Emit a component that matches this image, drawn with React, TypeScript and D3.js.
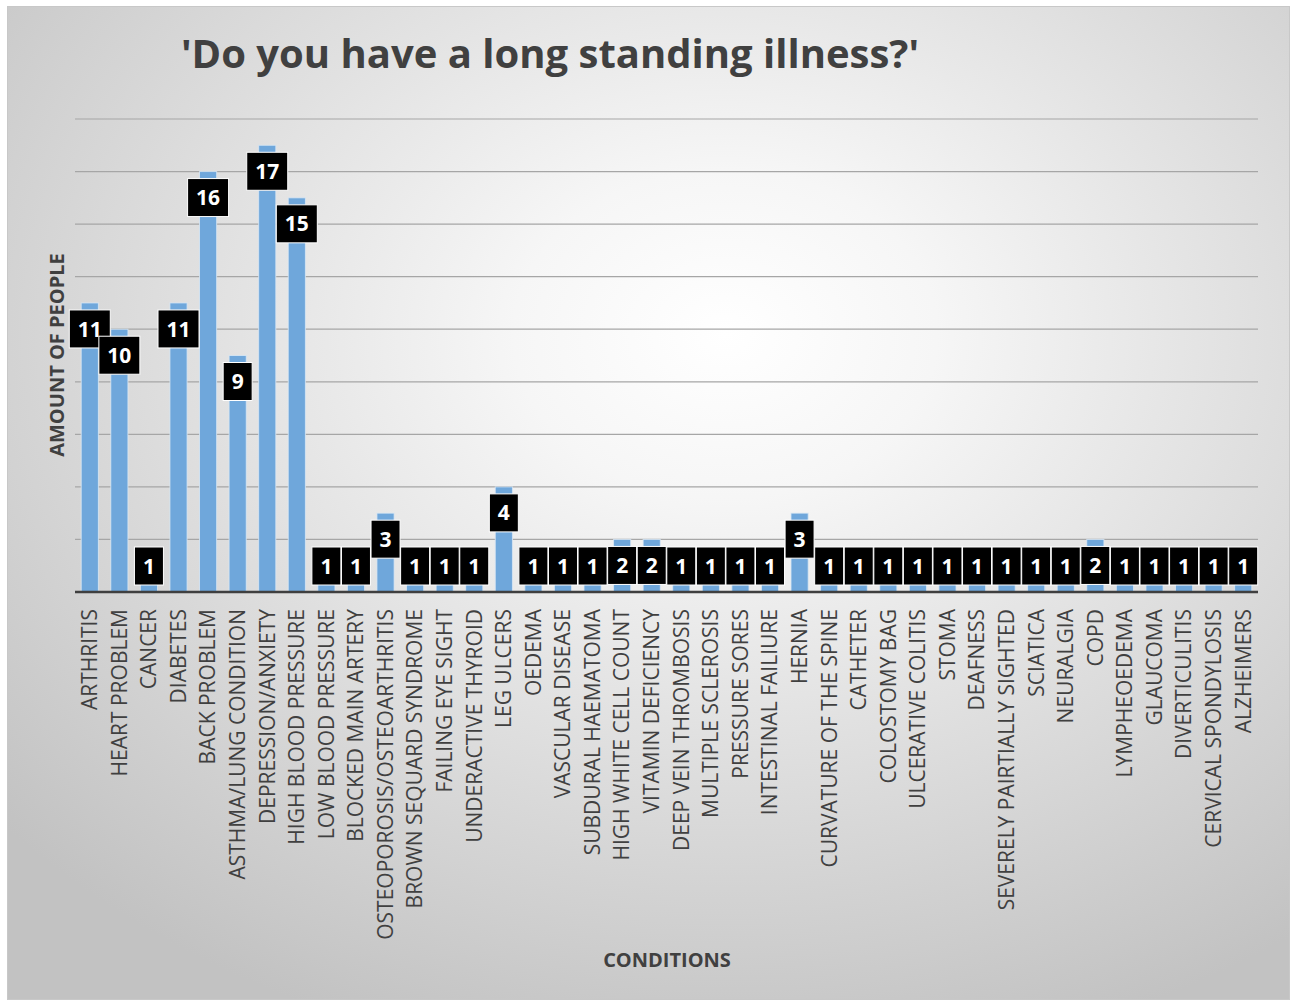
import { useMemo } from "react";
import * as d3 from "d3";

const W = 1293;
const H = 1001;
const ML = 75;
const MR = 1258;
const BASE = 592;
const TOP = 119;

const CONDITIONS = [
  "ARTHRITIS",
  "HEART PROBLEM",
  "CANCER",
  "DIABETES",
  "BACK PROBLEM",
  "ASTHMA/LUNG CONDITION",
  "DEPRESSION/ANXIETY",
  "HIGH BLOOD PRESSURE",
  "LOW BLOOD PRESSURE",
  "BLOCKED MAIN ARTERY",
  "OSTEOPOROSIS/OSTEOARTHRITIS",
  "BROWN SEQUARD SYNDROME",
  "FAILING EYE SIGHT",
  "UNDERACTIVE THYROID",
  "LEG ULCERS",
  "OEDEMA",
  "VASCULAR DISEASE",
  "SUBDURAL HAEMATOMA",
  "HIGH WHITE CELL COUNT",
  "VITAMIN DEFICIENCY",
  "DEEP VEIN THROMBOSIS",
  "MULTIPLE SCLEROSIS",
  "PRESSURE SORES",
  "INTESTINAL FAILIURE",
  "HERNIA",
  "CURVATURE OF THE SPINE",
  "CATHETER",
  "COLOSTOMY BAG",
  "ULCERATIVE COLITIS",
  "STOMA",
  "DEAFNESS",
  "SEVERELY PAIRTIALLY SIGHTED",
  "SCIATICA",
  "NEURALGIA",
  "COPD",
  "LYMPHEOEDEMA",
  "GLAUCOMA",
  "DIVERTICULITIS",
  "CERVICAL SPONDYLOSIS",
  "ALZHEIMERS",
];

const PEOPLE = [
  11, 10, 1, 11, 16, 9, 17, 15, 1, 1, 3, 1, 1, 1, 4, 1, 1, 1, 2, 2, 1, 1, 1, 1,
  3, 1, 1, 1, 1, 1, 1, 1, 1, 1, 2, 1, 1, 1, 1, 1,
];

const Y_TICKS = [0, 2, 4, 6, 8, 10, 12, 14, 16, 18];

const TEXT = "#404040";
const FONT = "'Open Sans', sans-serif";

export default function App() {
  const { x, y } = useMemo(() => {
    const x = d3.scaleBand().domain(CONDITIONS).range([ML, MR]).paddingInner(0.42).paddingOuter(0.21);
    const y = d3.scaleLinear().domain([0, 18]).range([BASE, TOP]);
    return { x, y };
  }, []);

  const boxH = 38;

  return (
    <svg
      width={W}
      height={H}
      style={{ position: "absolute", left: 0, top: 0, fontFamily: FONT }}
    >
      <defs>
        <radialGradient id="bg" cx="0.56" cy="0.33" r="0.75">
          <stop offset="0" stopColor="#ffffff" />
          <stop offset="0.22" stopColor="#f6f6f6" />
          <stop offset="1" stopColor="#c2c2c2" />
        </radialGradient>
      </defs>
      <rect x={0} y={0} width={W} height={H} fill="#fff" />
      <rect x={7.5} y={6.5} width={1282} height={993} fill="url(#bg)" stroke="#c8c8c8" />

      <text
        x={550}
        y={68}
        textAnchor="middle"
        fontSize={40}
        fontWeight={700}
        fill={TEXT}
      >
        'Do you have a long standing illness?'
      </text>

      <g stroke="#a6a6a6" strokeWidth={1.2}>
        {Y_TICKS.filter((t) => t > 0).map((t) => (
          <line key={t} x1={ML} x2={MR} y1={y(t)} y2={y(t)} />
        ))}
      </g>

      <g>
        {CONDITIONS.map((c, i) => (
          <rect
            key={c}
            x={x(c)}
            y={y(PEOPLE[i])}
            width={x.bandwidth()}
            height={BASE - y(PEOPLE[i])}
            fill="#6fa7db"
            stroke="#dbe8f5"
            strokeWidth={1}
            strokeOpacity={0.8}
          />
        ))}
      </g>

      <line x1={ML} x2={MR} y1={BASE} y2={BASE} stroke="#3f3f3f" strokeWidth={2.5} />

      <g>
        {CONDITIONS.map((c, i) => {
          const v = PEOPLE[i];
          const cx = (x(c) ?? 0) + x.bandwidth() / 2;
          const top = Math.min(y(v) + 7, BASE - 7 - boxH);
          const w = String(v).length > 1 ? 41 : 29;
          return (
            <g key={c}>
              <rect
                x={cx - w / 2}
                y={top}
                width={w}
                height={boxH}
                fill="#000"
                stroke="#fff"
                strokeWidth={1}
              />
              <text
                x={cx}
                y={top + boxH / 2}
                dy="0.36em"
                textAnchor="middle"
                fontSize={21}
                fontWeight={700}
                fill="#fff"
              >
                {v}
              </text>
            </g>
          );
        })}
      </g>

      <g>
        {CONDITIONS.map((c) => {
          const cx = (x(c) ?? 0) + x.bandwidth() / 2;
          return (
            <text
              key={c}
              transform={`translate(${cx},${609}) rotate(-90)`}
              textAnchor="end"
              dy="0.35em"
              fontSize={21}
              fill={TEXT}
            >
              {c}
            </text>
          );
        })}
      </g>

      <text
        transform={`translate(57,355) rotate(-90)`}
        textAnchor="middle"
        dy="0.35em"
        fontSize={20}
        fontWeight={700}
        fill={TEXT}
      >
        AMOUNT OF PEOPLE
      </text>

      <text
        x={667}
        y={960}
        textAnchor="middle"
        dy="0.35em"
        fontSize={20}
        fontWeight={700}
        fill={TEXT}
      >
        CONDITIONS
      </text>
    </svg>
  );
}
